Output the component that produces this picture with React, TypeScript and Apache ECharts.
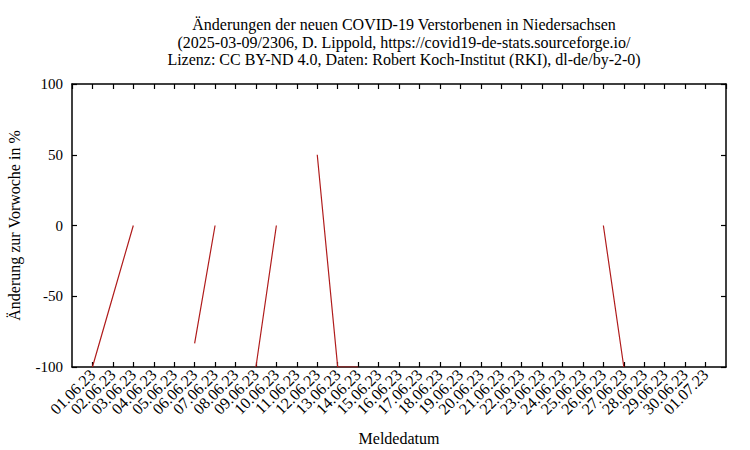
import { useEffect, useRef } from "react";
import * as echarts from "echarts";

// Meldedatum labels, 01.06.23 .. 01.07.23
const dates: string[] = [
  "01.06.23", "02.06.23", "03.06.23", "04.06.23", "05.06.23", "06.06.23",
  "07.06.23", "08.06.23", "09.06.23", "10.06.23", "11.06.23", "12.06.23",
  "13.06.23", "14.06.23", "15.06.23", "16.06.23", "17.06.23", "18.06.23",
  "19.06.23", "20.06.23", "21.06.23", "22.06.23", "23.06.23", "24.06.23",
  "25.06.23", "26.06.23", "27.06.23", "28.06.23", "29.06.23", "30.06.23",
  "01.07.23",
];

// change vs. previous week in %, null = no value (gap)
const changes: (number | null)[] = [
  -100, -50, 0, null, null, -83.3, 0, null, -100, 0, null, 50,
  -100, -100, null, null, null, null, null, null, null, null, null, null,
  null, 0, -100, null, null, null, null,
];

const yTicks = { min: -100, max: 100, interval: 50 };

const titleLines = [
  "Änderungen der neuen COVID-19 Verstorbenen in Niedersachsen",
  "(2025-03-09/2306, D. Lippold, https://covid19-de-stats.sourceforge.io/",
  "Lizenz: CC BY-ND 4.0, Daten: Robert Koch-Institut (RKI), dl-de/by-2-0)",
];

const FONT = "'Liberation Serif', 'DejaVu Serif', serif";

export default function App() {
  const ref = useRef<HTMLDivElement>(null);

  useEffect(() => {
    if (!ref.current) return;
    const chart = echarts.init(ref.current, undefined, { renderer: "svg" });

    const xLabel = (v: number) => dates[v] ?? "";
    const axisLine = { show: true, onZero: false, lineStyle: { color: "#000", width: 1.5 } };
    const tick = { show: true, inside: true, length: 5, lineStyle: { color: "#000", width: 1.2 } };

    chart.setOption({
      animation: false,
      backgroundColor: "#fff",
      title: {
        text: titleLines.join("\n"),
        left: 399,
        top: 11,
        textAlign: "center",
        textStyle: {
          fontFamily: FONT,
          fontSize: 16,
          fontWeight: "normal",
          lineHeight: 17.5,
          color: "#000",
        },
      },
      grid: {
        left: 72,
        right: 24,
        top: 84,
        bottom: 83,
        containLabel: false,
        outerBoundsMode: "none",
      },
      xAxis: [
        {
          type: "value",
          min: -1,
          max: dates.length,
          interval: 1,
          name: "Meldedatum",
          nameLocation: "middle",
          nameGap: 63,
          nameTextStyle: { fontFamily: FONT, fontSize: 16, color: "#000" },
          axisLine,
          axisTick: tick,
          splitLine: { show: false },
          axisLabel: {
            formatter: xLabel,
            rotate: 45,
            fontFamily: FONT,
            fontSize: 16,
            color: "#000",
            margin: 5,
            showMinLabel: false,
            showMaxLabel: false,
          },
        },
        {
          type: "value",
          position: "top",
          min: -1,
          max: dates.length,
          interval: 1,
          axisLine,
          axisTick: tick,
          axisLabel: { show: false },
          splitLine: { show: false },
        },
      ],
      yAxis: [
        {
          type: "value",
          ...yTicks,
          name: "Änderung zur Vorwoche in %",
          nameLocation: "middle",
          nameGap: 50,
          nameTextStyle: { fontFamily: FONT, fontSize: 16, color: "#000" },
          axisLine,
          axisTick: tick,
          splitLine: { show: false },
          axisLabel: {
            fontFamily: FONT,
            fontSize: 15,
            color: "#000",
            margin: 9,
          },
        },
        {
          type: "value",
          position: "right",
          ...yTicks,
          axisLine,
          axisTick: tick,
          axisLabel: { show: false },
          splitLine: { show: false },
        },
      ],
      series: [
        {
          type: "line",
          data: changes.map((v, i) => [i, v]),
          connectNulls: false,
          showSymbol: false,
          symbol: "none",
          clip: true,
          lineStyle: { color: "#b01c1c", width: 1.2 },
        },
      ],
    });

    return () => chart.dispose();
  }, []);

  return (
    <div
      ref={ref}
      style={{ position: "fixed", left: 0, top: 0, width: 750, height: 450 }}
    />
  );
}
